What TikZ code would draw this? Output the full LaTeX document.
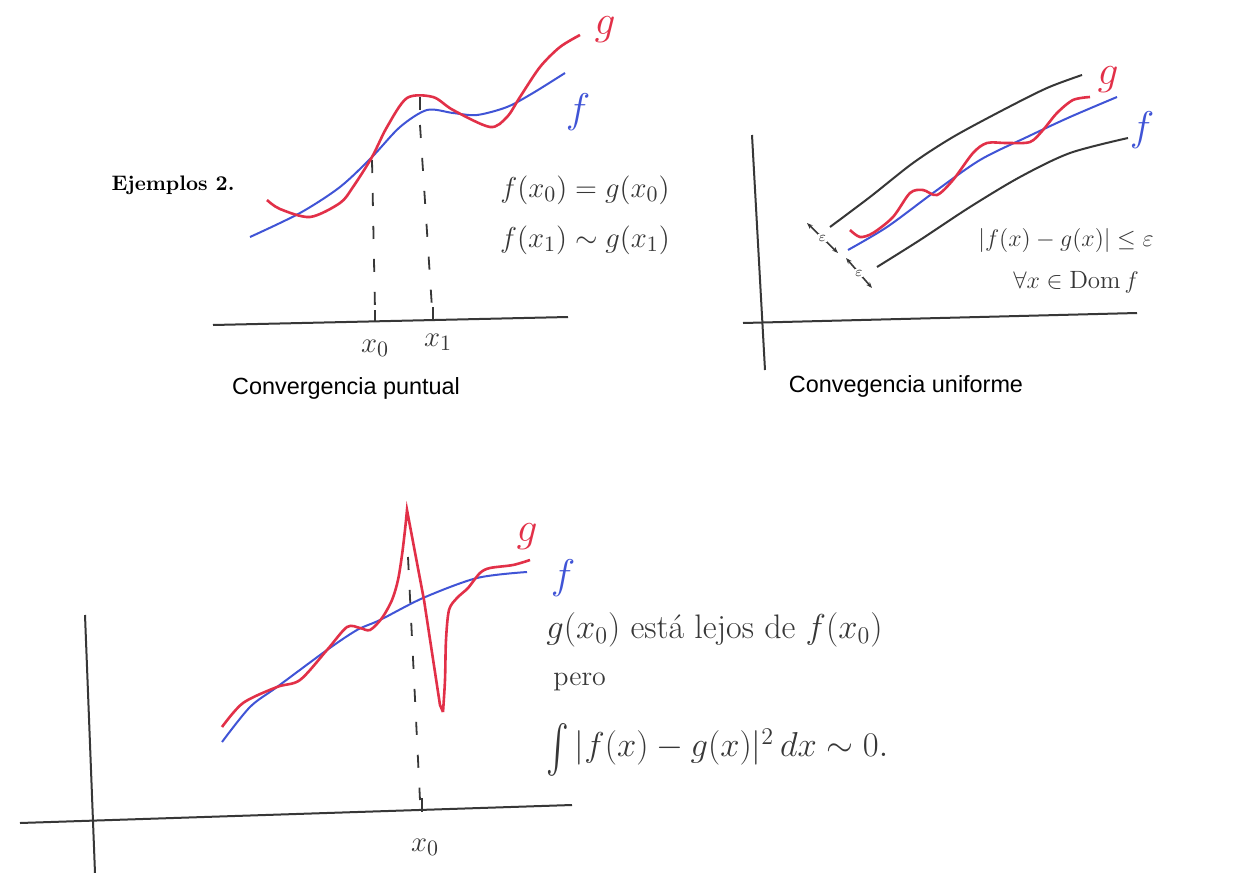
\documentclass[tikz,border=0pt]{standalone}
\usepackage{amsmath,amssymb}
\usepackage{fontspec}
\newfontfamily\capfont{Liberation Sans}
\usepackage{tikz}
\usetikzlibrary{arrows.meta}
\definecolor{gred}{RGB}{226,48,72}
\definecolor{fblue}{RGB}{64,84,214}
\definecolor{ink}{RGB}{55,55,55}
\tikzset{
  ejes/.style={ink,line width=1pt},
  curvaf/.style={fblue,line width=1pt},
  curvag/.style={gred,line width=1.3pt},
  guia/.style={ink,line width=0.9pt,dash pattern=on 6.5pt off 10pt},
  mano/.style={ink,font=\fontsize{15}{18}\selectfont},
  leyenda/.style={black,font=\capfont\fontsize{11.7}{14}\selectfont},
  nombre/.style={font=\fontsize{20}{22}\selectfont},
}

\begin{document}
\begin{tikzpicture}[x=0.5pt,y=-0.5pt]
\fill[white] (0,0) rectangle (1254,873);
\useasboundingbox (0,0) rectangle (1254,873);
\node[font=\bfseries\fontsize{10.5}{12}\selectfont] (titulo) at (173,185) {Ejemplos 2.};

\draw[ejes] (213,325) -- (568,317);
\draw[ejes] (375,310) -- (375,322);
\draw[ejes] (433,307) -- (433,319);
\draw[guia] (372,160) -- (375,310);
\draw[guia] (420,125) -- (432,308);
\draw[curvaf] plot[smooth] coordinates {(250,237) (300,213) (340,187) (372,157) (400,127) (427,110) (453,113) (477,115) (507,107) (533,93) (565,73)};
\draw[curvag] plot[smooth] coordinates {(267,200) (280,209) (310,217) (340,203) (353,187) (372,157) (387,127) (407,98) (433,97) (453,110) (490,127) (507,117) (520,97) (540,67) (560,47) (580,35)};
\draw[ejes] (420,97) -- (420,110);
\node[nombre,gred] (g1) at (605,30) {$g$};
\node[nombre,fblue] (f1) at (578,112) {$f$};
\node[mano] (p1) at (585,190) {$f(x_0) = g(x_0)$};
\node[mano] (p2) at (585,240) {$f(x_1) \sim g(x_1)$};
\node[mano] (x0a) at (375,348) {$x_0$};
\node[mano] (x1a) at (438,342) {$x_1$};
\node[leyenda] (cap1) at (346,388) {Convergencia puntual};

\draw[ejes] (752,135) -- (765,370);
\draw[ejes] (743,323) -- (1137,313);
\draw[ejes] plot[smooth] coordinates {(830,227) (870,197) (913,163) (953,137) (1003,110) (1047,88) (1082,75)};
\draw[ejes] plot[smooth] coordinates {(877,267) (920,240) (970,207) (1020,177) (1070,153) (1128,138)};
\draw[curvaf] plot[smooth] coordinates {(848,250) (887,227) (933,193) (980,160) (1027,137) (1070,117) (1117,97)};
\draw[curvag] plot[smooth] coordinates {(850,230) (860,237) (873,233) (893,217) (910,193) (923,190) (937,195) (953,180) (973,153) (987,143) (1007,143) (1030,142) (1043,130) (1057,113) (1073,100) (1090,97)};
\draw[ink,line width=0.8pt,{Stealth[length=3pt]}-{Stealth[length=3pt]}] (807,223) -- (838,253) node[midway,fill=white,inner sep=0.3pt,font=\scriptsize] (e1) {$\varepsilon$};
\draw[ink,line width=0.8pt,{Stealth[length=3pt]}-{Stealth[length=3pt]}] (846,258) -- (872,288) node[midway,fill=white,inner sep=0.3pt,font=\scriptsize] (e2) {$\varepsilon$};
\node[nombre,gred] (g2) at (1108,80) {$g$};
\node[nombre,fblue] (f2) at (1142,130) {$f$};
\node[mano,font=\fontsize{12.5}{15}\selectfont] (u1) at (1066,240) {$|f(x) - g(x)| \le \varepsilon$};
\node[mano,font=\fontsize{12.5}{15}\selectfont] (u2) at (1076,282) {$\forall x \in \mathrm{Dom}\, f$};
\node[leyenda] (cap2) at (906,386) {Convegencia uniforme};

\draw[ejes] (85,615) -- (95,873);
\draw[ejes] (20,823) -- (572,805);
\draw[ejes] (422,798) -- (422,812);
\draw[guia] (408,557) -- (420,800);
\draw[curvaf] plot[smooth] coordinates {(222,742) (250,707) (277,687) (327,650) (357,630) (380,620) (423,598) (477,578) (527,572)};
\draw[curvag] plot[smooth] coordinates {(222,727) (243,703) (277,687) (300,680) (327,650) (347,627) (360,628) (370,630) (382,618) (392,600) (398,580) (402,555) (405,530) (407,510)} -- (424,600) -- (440,705) -- (443,712) plot[smooth] coordinates {(443,712) (445,680) (446,640) (449,610) (457,598) (468,588) (480,573) (490,568) (513,565) (530,560)};
\node[nombre,gred] (g3) at (527,537) {$g$};
\node[nombre,fblue] (f3) at (563,578) {$f$};
\node[mano] (x0b) at (425,847) {$x_0$};
\node[mano,font=\fontsize{17}{20}\selectfont,anchor=west,inner sep=1pt] (l1) at (544,630) {$g(x_0)$ está lejos de $f(x_0)$};
\node[mano,font=\fontsize{14}{16}\selectfont,anchor=west,inner sep=0pt] (l2) at (553,682) {pero};
\node[mano,font=\fontsize{17}{20}\selectfont,anchor=west,inner sep=1pt] (l3) at (544,750) {$\raisebox{-0.35ex}{\scalebox{1}[1.4]{$\int$}}\, |f(x) - g(x)|^2\, dx \sim 0.$};
\end{tikzpicture}
\end{document}
